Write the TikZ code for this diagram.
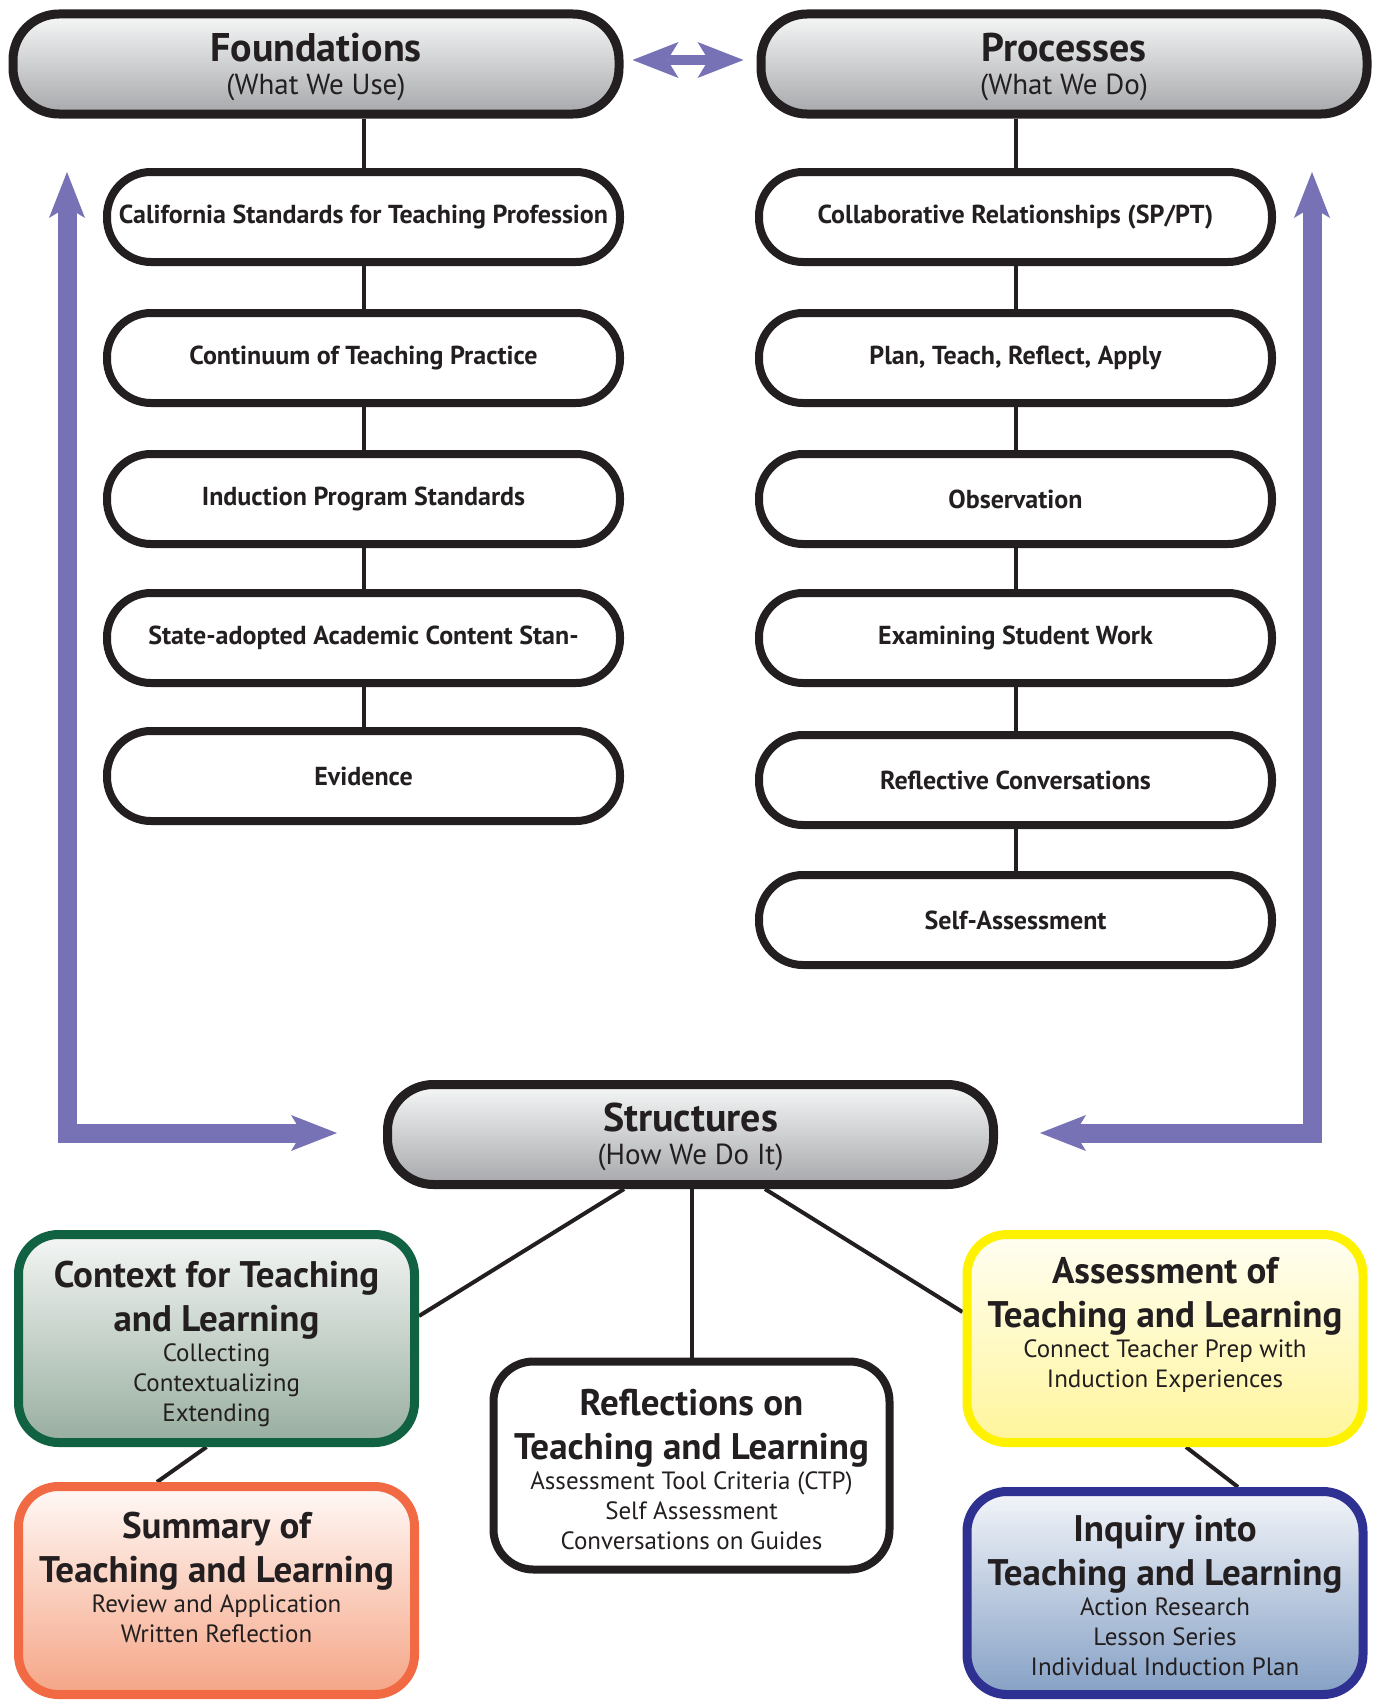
\documentclass[tikz,border=0pt]{standalone}
\usepackage{fontspec}
\setmainfont{PT Sans}
\usetikzlibrary{arrows.meta,backgrounds,calc}
\definecolor{ink}{RGB}{35,31,32}
\definecolor{subgray}{RGB}{60,58,60}
\definecolor{purp}{RGB}{118,114,181}
\definecolor{hdTop}{RGB}{246,247,247}
\definecolor{hdBot}{RGB}{166,168,171}
\definecolor{grnB}{RGB}{16,98,66}
\definecolor{grnT}{RGB}{244,246,245}
\definecolor{grnBot}{RGB}{152,174,159}
\definecolor{orgB}{RGB}{241,106,67}
\definecolor{orgT}{RGB}{255,249,246}
\definecolor{orgBot}{RGB}{245,165,134}
\definecolor{yelB}{RGB}{255,242,0}
\definecolor{yelT}{RGB}{255,254,242}
\definecolor{yelBot}{RGB}{255,245,155}
\definecolor{navB}{RGB}{46,49,146}
\definecolor{navT}{RGB}{243,245,249}
\definecolor{navBot}{RGB}{133,160,197}
\newcommand\myhtitle{\bfseries\fontsize{40}{44}\selectfont}
\newcommand\myhsub{\mdseries\fontsize{29}{33}\selectfont\color{subgray}}
\newcommand\mypill{\bfseries\fontsize{26}{32}\selectfont}
\newcommand\mybtitle{\bfseries\fontsize{37}{43}\selectfont}
\newcommand\mybsub{\mdseries\fontsize{25}{30}\selectfont\lineskiplimit=-100pt\relax}
\tikzset{
  header/.style={draw=ink,line width=9pt,rounded corners=46pt,top color=hdTop,bottom color=hdBot,
    minimum width=606pt,minimum height=100pt,inner sep=0pt},
  htext/.style={align=center,text=ink,inner sep=0pt,font=\myhsub},
  pill/.style={draw=ink,fill=white,line width=8pt,rounded corners=44pt,minimum width=513pt,
    minimum height=90pt,inner sep=0pt,font=\mypill,text=ink},
  bbox/.style={line width=9pt,rounded corners=40pt,minimum width=396pt,minimum height=208pt,inner sep=0pt},
  btext/.style={align=center,text=ink,inner sep=0pt,font=\mybsub},
  conn/.style={draw=ink,line width=4pt},
  ptip/.tip={Stealth[length=46pt,width=36pt,inset=11pt,line width=0pt]},
  parrow/.style={draw=purp,line width=19pt,line join=miter,-ptip},
  dblarrow/.style={draw=purp,line width=10pt,ptip-ptip}
}
\begin{document}
\begin{tikzpicture}[x=1pt,y=-1pt]
\useasboundingbox (0,0) rectangle (1380,1702);
% headers
\node[header] (found) at (316,64) {};
\node[htext] (found-t) at ([yshift=-3pt]found.center) {{\myhtitle Foundations}\\(What We Use)};
\node[header] (proc) at (1064,64) {};
\node[htext] (proc-t) at ([yshift=-3pt]proc.center) {{\myhtitle Processes}\\(What We Do)};
\node[header] (struct) at (690.5,1134.5) {};
\node[htext] (struct-t) at ([yshift=-2pt]struct.center) {{\myhtitle Structures}\\(How We Do It)};
% left column
\node[pill] (cal) at (363.5,217) {California Standards for Teaching Profession};
\node[pill] (cont) at (363.5,358) {Continuum of Teaching Practice};
\node[pill] (ind) at (363.5,499) {Induction Program Standards};
\node[pill] (state) at (363.5,638) {State-adopted Academic Content Stan-};
\node[pill] (evid) at (363.5,776) {Evidence};
% right column
\node[pill] (coll) at (1015.5,217) {Collaborative Relationships (SP/PT)};
\node[pill] (plan) at (1015.5,358) {Plan, Teach, Reflect, Apply};
\node[pill] (obs) at (1015.5,499) {Observation};
\node[pill] (exam) at (1015.5,638) {Examining Student Work};
\node[pill] (refl) at (1015.5,780) {Reflective Conversations};
\node[pill] (self) at (1015.5,920) {Self-Assessment};
% bottom boxes
\node[bbox,draw=grnB,top color=grnT,bottom color=grnBot] (context) at (216.5,1338.5) {};
\node[btext] (context-t) at ([yshift=-5pt]context.center)
  {{\mybtitle Context for Teaching}\\[14pt]{\mybtitle and Learning}\\Collecting\\Contextualizing\\Extending};
\node[bbox,draw=orgB,top color=orgT,bottom color=orgBot] (summary) at (216.5,1590.5) {};
\node[btext] (summary-t) at ([yshift=13.5pt]summary.center)
  {{\mybtitle Summary of}\\[14pt]{\mybtitle Teaching and Learning}\\Review and Application\\Written Reflection};
\node[bbox,draw=ink,fill=white,line width=8pt] (reflect) at (691.5,1465.5) {};
\node[btext] (reflect-t) at ([yshift=-3.5pt]reflect.center)
  {{\mybtitle Reflections on}\\[14pt]{\mybtitle Teaching and Learning}\\Assessment Tool Criteria (CTP)\\Self Assessment\\Conversations on Guides};
\node[bbox,draw=yelB,top color=yelT,bottom color=yelBot] (assess) at (1165,1338.5) {};
\node[btext] (assess-t) at ([yshift=14pt]assess.center)
  {{\mybtitle Assessment of}\\[14pt]{\mybtitle Teaching and Learning}\\Connect Teacher Prep with\\Induction Experiences};
\node[bbox,draw=navB,top color=navT,bottom color=navBot,minimum height=203pt] (inquiry) at (1165,1593) {};
\node[btext] (inquiry-t) at ([yshift=-2.8pt]inquiry.center)
  {{\mybtitle Inquiry into}\\[14pt]{\mybtitle Teaching and Learning}\\Action Research\\Lesson Series\\Individual Induction Plan};
% connectors
\begin{pgfonlayer}{background}
\draw[conn] (found.south -| cal.north) -- (cal.north);
\draw[conn] (cal) -- (cont);
\draw[conn] (cont) -- (ind);
\draw[conn] (ind) -- (state);
\draw[conn] (state) -- (evid);
\draw[conn] (proc.south -| coll.north) -- (coll.north);
\draw[conn] (coll) -- (plan);
\draw[conn] (plan) -- (obs);
\draw[conn] (obs) -- (exam);
\draw[conn] (exam) -- (refl);
\draw[conn] (refl) -- (self);
\draw[conn] (struct.south -| reflect.north) -- (reflect.north);
\draw[conn] ([xshift=-66.5pt]struct.south) -- ([yshift=22.5pt]context.east);
\draw[conn] ([xshift=74.5pt]struct.south) -- ([yshift=26.5pt]assess.west);
\draw[conn] ([xshift=-10pt]context.south) -- ([xshift=-59.5pt]summary.north);
\draw[conn] ([xshift=21pt]assess.south) -- ([xshift=73pt]inquiry.north);
\end{pgfonlayer}
% purple arrows
\coordinate (ltop) at (67,172);
\coordinate (lcorner) at (67,1133);
\coordinate (ltip) at (337,1133);
\coordinate (rtop) at (1312,172);
\coordinate (rcorner) at (1312,1133);
\coordinate (rtip) at (1040,1133);
\draw[parrow] (lcorner) -- (ltop);
\draw[parrow] (ltop |- lcorner) ++(-9.5,0) -- (ltip);
\draw[parrow] (rcorner) -- (rtop);
\draw[parrow] (rtop |- rcorner) ++(9.5,0) -- (rtip);
\draw[dblarrow] ([xshift=9pt,yshift=4pt]found.east) -- ([xshift=-13pt,yshift=4pt]proc.west);
\end{tikzpicture}
\end{document}
